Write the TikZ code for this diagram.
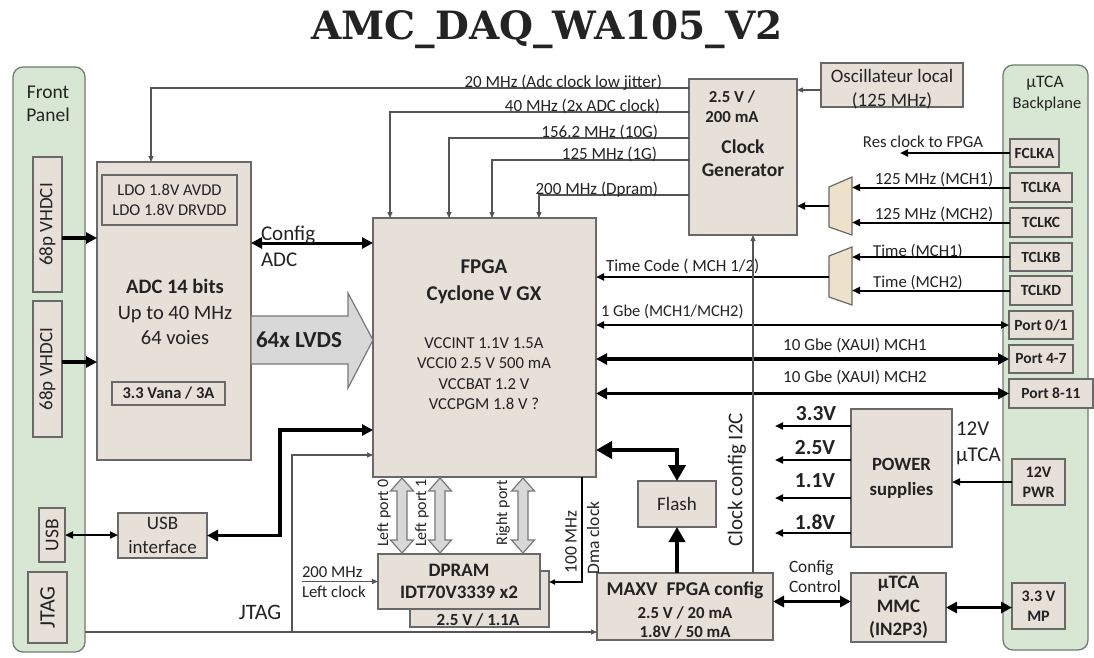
\documentclass[tikz,border=0pt]{standalone}
\usepackage{fontspec}
\setmainfont{Carlito}
\newfontfamily\titlefont{DejaVu Serif}
\usetikzlibrary{arrows.meta,calc}
\definecolor{boxfill}{RGB}{231,224,217}
\definecolor{boxline}{RGB}{105,105,105}
\definecolor{panelfill}{RGB}{216,231,211}
\definecolor{panelline}{RGB}{110,125,110}
\definecolor{muxfill}{RGB}{237,226,201}
\definecolor{arrfill}{RGB}{216,216,216}
\definecolor{arrline}{RGB}{120,120,120}
\definecolor{thinc}{RGB}{85,85,85}
\definecolor{txt}{RGB}{35,35,35}
\newcommand\fsz[2]{\fontsize{#1}{#2}\selectfont}
\newcommand\dblarr[3]{%
  \draw[blockarr] (#1-5,#2+13) -- (#1-11.5,#2+13) -- (#1,#2) -- (#1+11.5,#2+13) -- (#1+5,#2+13)
   -- (#1+5,#3-13) -- (#1+11.5,#3-13) -- (#1,#3) -- (#1-11.5,#3-13) -- (#1-5,#3-13) -- cycle;}
\tikzset{
 box/.style={draw=boxline, fill=boxfill, line width=1.3pt, inner sep=0pt, outer sep=0pt, text=txt, align=center},
 panel/.style={draw=panelline, fill=panelfill, line width=1.3pt, rounded corners=10pt, inner sep=0pt, outer sep=0pt},
 lbl/.style={inner sep=0pt, outer sep=0pt, text=txt, align=center},
 thinln/.style={draw=thinc, line width=1.1pt, -{Triangle[length=6pt,width=5pt]}},
 medln/.style={draw=black, line width=2pt, -{Triangle[length=8pt,width=7pt]}},
 meddbl/.style={draw=black, line width=2pt, {Triangle[length=8pt,width=7pt]}-{Triangle[length=8pt,width=7pt]}},
 thkln/.style={draw=black, line width=3.5pt, -{Triangle[length=11pt,width=11pt]}},
 thkdbl/.style={draw=black, line width=3.5pt, {Triangle[length=11pt,width=11pt]}-{Triangle[length=11pt,width=11pt]}},
 bigln/.style={draw=black, line width=4.5pt, -{Triangle[length=15pt,width=16pt]}},
 bigdbl/.style={draw=black, line width=4.5pt, {Triangle[length=16pt,width=17pt]}-{Triangle[length=16pt,width=17pt]}},
 blockarr/.style={draw=arrline, fill=arrfill, line width=1.2pt},
 mux/.style={draw=boxline, fill=muxfill, line width=1.2pt},
}
\begin{document}
\begin{tikzpicture}[x=1pt,y=-1pt]
\useasboundingbox (0,0) rectangle (1094,657);
\fill[white] (0,0) rectangle (1094,657);

\node[lbl, font=\titlefont\bfseries\fsz{39}{39}] (title) at (547,30) {AMC\_DAQ\_WA105\_V2};

% panels
\node[panel, minimum width=72pt, minimum height=585pt] (fp) at (49,359.5) {};
\node[panel, minimum width=85pt, minimum height=585pt] (bp) at (1045.5,357.5) {};
\node[lbl, font=\fsz{19.5}{23}] (fptxt) at (48,104) {Front\\Panel};
\node[lbl, font=\fsz{17.5}{19}] (bptxt1) at (1045,83) {µTCA};
\node[lbl, font=\fsz{16.5}{18}] (bptxt2) at (1047,104) {Backplane};

% front panel connectors
\node[box, minimum width=29pt, minimum height=135pt] (vh1) at (47.5,224.5) {};
\node[box, minimum width=29pt, minimum height=136pt] (vh2) at (47.5,369) {};
\node[box, minimum width=26pt, minimum height=54pt] (usb) at (52,535) {};
\node[box, minimum width=39pt, minimum height=71pt] (jtagb) at (47.5,607.5) {};
\node[lbl, rotate=90, font=\fsz{19}{20}] at (vh1) {68p VHDCI};
\node[lbl, rotate=90, font=\fsz{19}{20}] at (vh2) {68p VHDCI};
\node[lbl, rotate=90, font=\fsz{19.5}{20}] at (usb) {USB};
\node[lbl, rotate=90, font=\fsz{22}{22}] at (jtagb) {JTAG};

% ADC
\node[box, minimum width=154pt, minimum height=298pt] (adc) at (174,311) {};
\node[box, minimum width=135pt, minimum height=50pt, font=\fsz{16.5}{20.5}] (ldo) at (169.5,200) {LDO 1.8V AVDD\\LDO 1.8V DRVDD};
\node[box, minimum width=113pt, minimum height=23pt, font=\bfseries\fsz{16.5}{18}] (vana) at (168.5,393.5) {3.3 Vana / 3A};
\node[lbl, font=\fsz{20.5}{25.5}] (adctxt) at (175,312) {\textbf{ADC 14 bits}\\Up to 40 MHz\\64 voies};
\node[box, minimum width=89pt, minimum height=45pt, font=\fsz{19}{24}] (usbi) at (162.5,535.5) {USB\\interface};

% FPGA
\node[box, minimum width=223pt, minimum height=259pt] (fpga) at (484.5,347.5) {};
\node[lbl, font=\bfseries\fsz{21}{27}] (fpgat) at (484,281.5) {FPGA\\Cyclone V GX};
\node[lbl, font=\fsz{16.7}{20.3}] (fpgav) at (484,373.5) {VCCINT 1.1V 1.5A\\VCCI0 2.5 V 500 mA\\VCCBAT 1.2 V\\VCCPGM 1.8 V ?};

% clock generator, oscillator
\node[box, minimum width=108pt, minimum height=156pt] (clk) at (743,157) {};
\node[lbl, font=\bfseries\fsz{16.8}{19.5}] (clkv) at (732,106.5) {2.5 V /\\200 mA};
\node[lbl, font=\bfseries\fsz{19.5}{22.5}] (clkt) at (743,158) {Clock\\Generator};
\node[box, minimum width=142pt, minimum height=44pt] (osc) at (892,85) {};
\node[lbl, font=\fsz{19}{24}] (osct) at (892,89) {Oscillateur local\\(125 MHz)};

% backplane boxes
\node[box, minimum width=49pt, minimum height=28pt, font=\bfseries\fsz{15.5}{17}] (fclka) at (1034.5,153) {FCLKA};
\node[box, minimum width=62pt, minimum height=29pt, font=\bfseries\fsz{15.5}{17}] (tclka) at (1041,187.5) {TCLKA};
\node[box, minimum width=62pt, minimum height=29pt, font=\bfseries\fsz{15.5}{17}] (tclkc) at (1041,222.5) {TCLKC};
\node[box, minimum width=62pt, minimum height=28pt, font=\bfseries\fsz{15.5}{17}] (tclkb) at (1041,257) {TCLKB};
\node[box, minimum width=62pt, minimum height=29pt, font=\bfseries\fsz{15.5}{17}] (tclkd) at (1041,290.5) {TCLKD};
\node[box, minimum width=64pt, minimum height=28pt, font=\bfseries\fsz{15.5}{17}] (p01) at (1041,325) {Port 0/1};
\node[box, minimum width=64pt, minimum height=28pt, font=\bfseries\fsz{15.5}{17}] (p47) at (1041,359) {Port 4-7};
\node[box, minimum width=84pt, minimum height=29pt, font=\bfseries\fsz{15.5}{17}] (p811) at (1051,393.5) {Port 8-11};
\node[box, minimum width=53pt, minimum height=46pt, font=\bfseries\fsz{16}{20}] (pwr12) at (1038.5,482) {12V\\PWR};
\node[box, minimum width=53pt, minimum height=46pt, font=\bfseries\fsz{16}{20}] (mp) at (1038.5,606) {3.3 V\\MP};

% power, mmc, maxv, flash, dpram
\node[box, minimum width=101pt, minimum height=138pt, font=\bfseries\fsz{18.7}{25}] (power) at (901.5,478) {POWER\\supplies};
\node[box, minimum width=95pt, minimum height=69pt, font=\bfseries\fsz{19}{23.5}] (mmc) at (898.5,607.5) {µTCA\\MMC\\(IN2P3)};
\node[box, minimum width=176pt, minimum height=67pt] (maxv) at (685,606.5) {};
\node[lbl, font=\bfseries\fsz{19.5}{20}] (maxvt) at (685,590) {MAXV\ \ FPGA config};
\node[lbl, font=\bfseries\fsz{16.8}{19}] (maxvv) at (685,622) {2.5 V / 20 mA\\1.8V / 50 mA};
\node[box, minimum width=78pt, minimum height=46pt, font=\fsz{19}{20}] (flash) at (677,504) {Flash};
\node[box, minimum width=139pt, minimum height=56pt] (dpramb) at (479.5,599) {};
\node[lbl, font=\bfseries\fsz{17}{18}] (dpramv) at (478,620) {2.5 V / 1.1A};
\node[box, minimum width=162pt, minimum height=55pt, font=\bfseries\fsz{19}{22}] (dpram) at (459,581.5) {DPRAM\\IDT70V3339 x2};

% muxes
\draw[mux] (829,187) -- (852,177) -- (852,235) -- (829,227) -- cycle;
\draw[mux] (829,256) -- (852,247) -- (852,305) -- (829,297) -- cycle;
\coordinate (m1r) at (852,206); \coordinate (m1l) at (829,206);
\coordinate (m2r) at (852,277); \coordinate (m2l) at (829,277);

% clock lines
\draw[thinln] ($(clk.north west)+(0,9)$) -| ($(adc.north west)+(54,0)$);
\draw[thinln] ($(clk.north west)+(0,33)$) -| ($(fpga.north west)+(17,0)$);
\draw[thinln] ($(clk.north west)+(0,59)$) -| ($(fpga.north west)+(76,0)$);
\draw[thinln] ($(clk.north west)+(0,81)$) -| ($(fpga.north west)+(119,0)$);
\draw[thinln] ($(clk.north west)+(0,116)$) -| ($(fpga.north west)+(166,0)$);
\node[lbl, anchor=base east, font=\fsz{17}{18}] at (662,87) {20 MHz (Adc clock low jitter)};
\node[lbl, anchor=base east, font=\fsz{17}{18}] at (660,111) {40 MHz (2x ADC clock)};
\node[lbl, anchor=base east, font=\fsz{17}{18}] at (658,137) {156.2 MHz (10G)};
\node[lbl, anchor=base east, font=\fsz{17}{18}] at (657,159) {125 MHz (1G)};
\node[lbl, anchor=base east, font=\fsz{17}{18}] at (658,194) {200 MHz (Dpram)};

\coordinate (o1) at ($(osc.west)+(0,5)$);
\draw[thinln] (o1) -- (o1 -| clk.east);

% backplane clocks
\draw[medln] (fclka.west) -- ++(-110,0) coordinate (resend);
\node[lbl, anchor=base, font=\fsz{16.7}{18}] at (923,147) {Res clock to FPGA};
\draw[medln] (tclka.west) -- (tclka.west -| m1r);
\draw[medln] (tclkc.west) -- (tclkc.west -| m1r);
\draw[medln, line width=2.5pt] (m1l) -- (m1l -| clk.east);
\node[lbl, anchor=base, font=\fsz{17}{18}] at (934,184.5) {125 MHz (MCH1)};
\node[lbl, anchor=base, font=\fsz{17}{18}] at (934,219) {125 MHz (MCH2)};
\draw[medln] (tclkb.west) -- (tclkb.west -| m2r);
\draw[medln] (tclkd.west) -- (tclkd.west -| m2r);
\node[lbl, anchor=base, font=\fsz{16.7}{18}] at (918,256) {Time (MCH1)};
\node[lbl, anchor=base, font=\fsz{16.7}{18}] at (918,287) {Time (MCH2)};
\draw[medln] (m2l) -- (m2l -| fpga.east);
\node[lbl, anchor=base west, font=\fsz{17}{18}] at (606,271) {Time Code ( MCH 1/2)};

% ethernet
\draw[meddbl] (p01.west) -- (p01.west -| fpga.east);
\node[lbl, anchor=base west, font=\fsz{16.5}{18}] at (601,316) {1 Gbe (MCH1/MCH2)};
\draw[thkdbl] (p47.west) -- (p47.west -| fpga.east);
\node[lbl, anchor=base, font=\fsz{17}{18}] at (855,350) {10 Gbe (XAUI) MCH1};
\draw[thkdbl] (p811.west) -- (p811.west -| fpga.east);
\node[lbl, anchor=base, font=\fsz{17}{18}] at (855,382) {10 Gbe (XAUI) MCH2};

% clock config I2C
\coordinate (i2c) at ($(maxv.north east)+(-20,0)$);
\draw[thinln] (i2c) -- (i2c |- clk.south);
\node[lbl, rotate=90, font=\fsz{21}{22}] at (737,480) {Clock config I2C};

% power
\foreach \dy in {17,51,89,124} {
  \draw[medln, line width=2.3pt] ($(power.north west)+(0,\dy)$) -- ++(-76,0);
}
\node[lbl, anchor=base, font=\bfseries\fsz{21.5}{22}] at (816,420) {3.3V};
\node[lbl, anchor=base, font=\bfseries\fsz{21.5}{22}] at (815,454) {2.5V};
\node[lbl, anchor=base, font=\bfseries\fsz{21.5}{22}] at (815,487) {1.1V};
\node[lbl, anchor=base, font=\bfseries\fsz{21.5}{22}] at (815,529) {1.8V};
\draw[medln] (pwr12.west) -- (pwr12.west -| power.east);
\node[lbl, anchor=west, align=left, font=\fsz{21}{26}] at (956,443) {12V\\µTCA};

% MMC
\coordinate (cc) at ($(maxv.east)+(0,-5)$);
\draw[thkdbl] (cc) -- (cc -| mmc.west);
\node[lbl, anchor=west, align=left, font=\fsz{17.3}{20}] at (789,577) {Config\\Control};
\draw[thkdbl] (mmc.east) -- (mmc.east -| mp.west);

% flash
\coordinate (ff) at ($(fpga.south east)+(0,-27)$);
\draw[bigdbl] (ff) -| (flash.north);
\draw[bigln] (flash.south |- maxv.north) -- (flash.south);

% DPRAM ports
\dblarr{402}{478}{553}
\dblarr{440}{478}{553}
\dblarr{523}{478}{553}
\node[lbl, rotate=90, font=\fsz{16}{17}] at (384,513) {Left port 0};
\node[lbl, rotate=90, font=\fsz{16}{17}] at (422,513) {Left port 1};
\node[lbl, rotate=90, font=\fsz{16}{17}] at (503,513) {Right port};

\coordinate (d1) at ($(fpga.south east)+(-14,0)$);
\coordinate (d2) at ($(dpramb.north east)+(0,11)$);
\draw[thinln, draw=black, line width=1.6pt] (d1) |- (d2);
\node[lbl, rotate=90, font=\fsz{17.5}{18}] at (571,542) {100 MHz};
\node[lbl, rotate=90, font=\fsz{17.5}{18}] at (593,538) {Dma clock};

\draw[thinln] ($(dpram.west)+(-76,0)$) -- (dpram.west);
\node[lbl, anchor=west, font=\fsz{16.7}{18}] at (302,572) {200 MHz};
\node[lbl, anchor=west, font=\fsz{16.7}{18}] at (302,592) {Left clock};

% ADC links
\coordinate (a1) at ($(vh1.east)+(0,13.5)$);
\draw[thkln, line width=4pt] (a1) -- (a1 -| adc.west);
\coordinate (a2) at ($(vh2.east)+(0,-7)$);
\draw[thkln, line width=4pt] (a2) -- (a2 -| adc.west);
\coordinate (ca) at ($(adc.north east)+(0,81)$);
\draw[thkdbl, line width=3pt] (ca) -- (ca -| fpga.west);
\node[lbl, anchor=base west, font=\fsz{21}{22}] at (261,240) {Config};
\node[lbl, anchor=base west, font=\fsz{21}{22}] at (261,266) {ADC};

\draw[blockarr] (251,316) -- (348,316) -- (348,293) -- (373,340) -- (348,388) -- (348,364) -- (251,364) -- cycle;
\node[lbl, font=\bfseries\fsz{23}{24}] at (299,340) {64x LVDS};

% USB
\draw[meddbl] (usb.east) -- (usb.east -| usbi.west);
\coordinate (uf) at ($(fpga.south west)+(0,-47)$);
\draw[thkdbl] (usbi.east) -- ++(73,0) |- (uf);

% JTAG
\coordinate (j1) at ($(fp.south east)+(0,-20)$);
\draw[thinln] (j1) -- (j1 -| maxv.west);
\coordinate (j2) at ($(j1)+(207,0)$);
\coordinate (jf) at ($(fpga.south west)+(0,-22)$);
\draw[thinln] (j2) |- (jf);
\node[lbl, font=\fsz{22}{22}] at (260,612) {JTAG};
\end{tikzpicture}
\end{document}
